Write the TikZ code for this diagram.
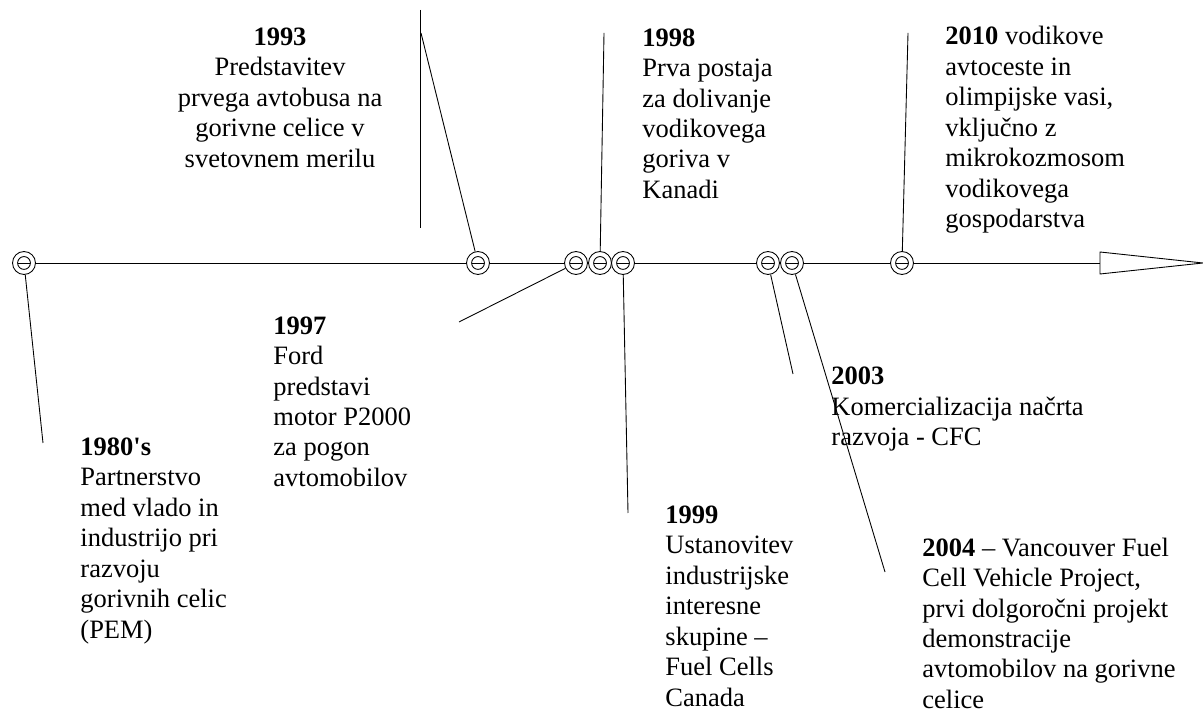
\documentclass[tikz,border=0pt]{standalone}
\usepackage{fontspec}
\setmainfont{Liberation Serif}
\usepackage{tikz}
\pgfdeclarelayer{edgelayer}
\pgfdeclarelayer{nodelayer}
\pgfsetlayers{edgelayer,nodelayer,main}
\tikzstyle{none} = []
\tikzstyle{Marker}=[fill=white, draw=black, shape=circle, minimum size=10.4pt, inner sep=0pt, path picture={\draw (path picture bounding box.center) circle (2.9pt); \draw ([xshift=-2.9pt]path picture bounding box.center) -- ([xshift=2.9pt]path picture bounding box.center);}]
\tikzstyle{Event}=[anchor=base west, align=left, inner sep=0pt, font=\fontsize{12}{13.8}\selectfont]
\tikzstyle{Event Centre}=[anchor=base, align=center, inner sep=0pt, font=\fontsize{12}{13.8}\selectfont]
\tikzstyle{Arrow Head}=[-, draw=black, fill=white]
\begin{document}
\begin{tikzpicture}[line width=1pt, x=18.12pt, y=18.12pt]
	\useasboundingbox (0, 0) rectangle (30.075, 17.8);
	\begin{pgfonlayer}{nodelayer}
		\node [style=Marker] (0) at (0.6, 11.225) {};
		\node [style=Marker] (1) at (11.95, 11.225) {};
		\node [style=Marker] (2) at (14.4, 11.225) {};
		\node [style=Marker] (3) at (15, 11.225) {};
		\node [style=Marker] (4) at (15.575, 11.225) {};
		\node [style=Marker] (5) at (19.2, 11.225) {};
		\node [style=Marker] (6) at (19.8, 11.225) {};
		\node [style=Marker] (7) at (22.55, 11.225) {};
		\coordinate (10) at (27.5, 11.225);
		\coordinate (11) at (27.5, 11.5);
		\coordinate (12) at (30.075, 11.225);
		\coordinate (13) at (27.5, 10.95);
		\coordinate (20) at (1.075, 6.725);
		\coordinate (21) at (10.5, 17.55);
		\coordinate (22) at (10.5, 12.1);
		\coordinate (23) at (10.525, 16.975);
		\coordinate (24) at (11.475, 9.75);
		\coordinate (25) at (15.1, 16.975);
		\coordinate (26) at (15.7, 4.975);
		\coordinate (27) at (19.825, 8.45);
		\coordinate (28) at (22.125, 3.5);
		\coordinate (29) at (22.7, 16.975);
		\node [style=Event] (30) at (2, 1.85) {\textbf{1980\textquotesingle s}\\Partnerstvo\\med vlado in\\industrijo pri\\razvoju\\gorivnih celic\\(PEM)};
		\node [style=Event Centre] (31) at (7, 13.62) {\textbf{1993}\\Predstavitev\\prvega avtobusa na\\gorivne celice v\\svetovnem merilu};
		\node [style=Event] (32) at (6.825, 5.64) {\textbf{1997}\\Ford\\predstavi\\motor P2000\\za pogon\\avtomobilov};
		\node [style=Event] (33) at (16.05, 12.84) {\textbf{1998}\\Prva postaja\\za dolivanje\\vodikovega\\goriva v\\Kanadi};
		\node [style=Event] (34) at (16.625, 0.15) {\textbf{1999}\\Ustanovitev\\industrijske\\interesne\\skupine --\\Fuel Cells\\Canada};
		\node [style=Event] (35) at (20.775, 6.66) {\textbf{2003}\\Komercializacija načrta\\razvoja - CFC};
		\node [style=Event] (36) at (23.05, 0.09) {\textbf{2004} -- Vancouver Fuel\\Cell Vehicle Project,\\prvi dolgoročni projekt\\demonstracije\\avtomobilov na gorivne\\celice};
		\node [style=Event] (37) at (23.625, 12.11) {\textbf{2010} vodikove\\avtoceste in\\olimpijske vasi,\\vključno z\\mikrokozmosom\\vodikovega\\gospodarstva};
	\end{pgfonlayer}
	\begin{pgfonlayer}{edgelayer}
		\draw (0) to (10);
		\draw [style=Arrow Head] (11) -- (12) -- (13) -- cycle;
		\draw (0) to (20);
		\draw (21) to (22);
		\draw (23) to (1);
		\draw (24) to (2);
		\draw (25) to (3);
		\draw (4) to (26);
		\draw (5) to (27);
		\draw (6) to (28);
		\draw (29) to (7);
	\end{pgfonlayer}
\end{tikzpicture}
\end{document}
